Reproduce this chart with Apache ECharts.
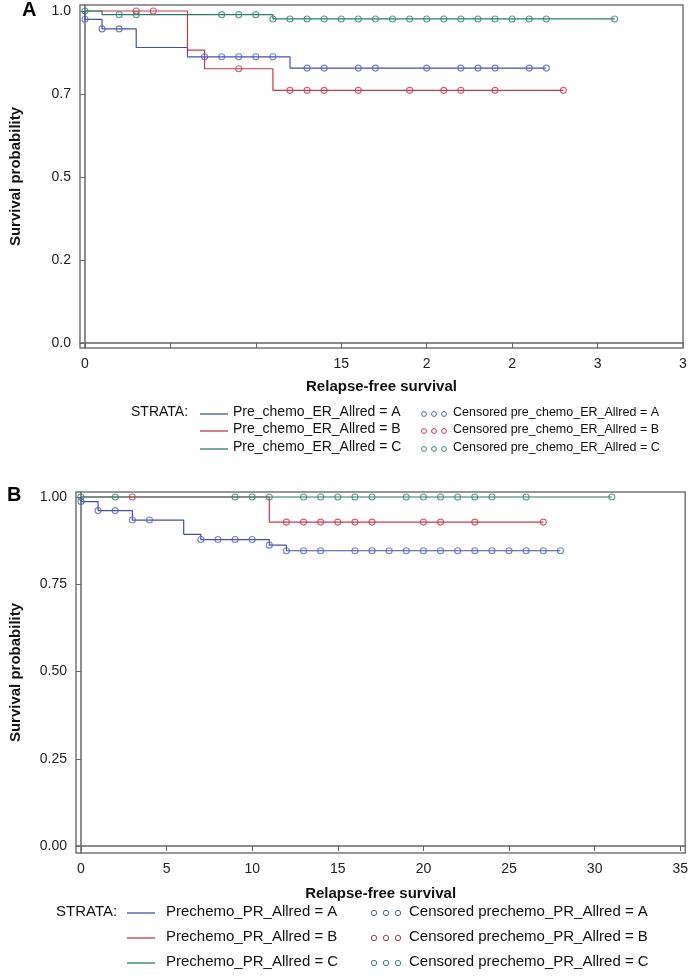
<!DOCTYPE html>
<html><head><meta charset="utf-8">
<script src="https://cdn.jsdelivr.net/npm/echarts@6/dist/echarts.min.js"></script>
<style>html,body{margin:0;padding:0;background:#fff}#c{width:691px;height:977px}</style>
</head><body><div id="c"></div>
<script>
// ---------- axis ticks / labels ----------
const xTicks = [0, 5, 10, 15, 20, 25, 30, 35];
const yTicks = [0, 0.25, 0.5, 0.75, 1];
const xTickLabelsA = ['0', '', '', '15', '2', '2', '3', '3'];
const yTickLabelsA = ['0.0', '0.2', '0.5', '0.7', '1.0'];
const xTickLabelsB = ['0', '5', '10', '15', '20', '25', '30', '35'];
const yTickLabelsB = ['0.00', '0.25', '0.50', '0.75', '1.00'];

// ---------- Panel A (Pre_chemo_ER_Allred) ----------
const namesA = ['Pre_chemo_ER_Allred = A', 'Pre_chemo_ER_Allred = B', 'Pre_chemo_ER_Allred = C'];
const censNamesA = ['Censored pre_chemo_ER_Allred = A', 'Censored pre_chemo_ER_Allred = B', 'Censored pre_chemo_ER_Allred = C'];
// [time, survival after step]
const stepsA_A = [[0, 1], [0, 0.975], [1, 0.946], [3, 0.890], [6, 0.862], [12, 0.828]];
const endA_A = 27;
const censA_A = [0, 1, 2, 7, 8, 9, 10, 11, 13, 14, 16, 17, 20, 22, 23, 24, 26, 27];
const stepsA_B = [[0, 1], [6, 0.882], [7, 0.826], [11, 0.761]];
const endA_B = 28;
const censA_B = [3, 4, 9, 12, 13, 14, 16, 19, 21, 22, 24, 28];
const stepsA_C = [[0, 1], [1, 0.989], [11, 0.976]];
const endA_C = 31;
const censA_C = [0, 2, 3, 8, 9, 10, 11, 12, 13, 14, 15, 16, 17, 18, 19, 20, 21, 22, 23, 24, 25, 26, 27, 31];

// ---------- Panel B (Prechemo_PR_Allred) ----------
const namesB = ['Prechemo_PR_Allred = A', 'Prechemo_PR_Allred = B', 'Prechemo_PR_Allred = C'];
const censNamesB = ['Censored prechemo_PR_Allred = A', 'Censored prechemo_PR_Allred = B', 'Censored prechemo_PR_Allred = C'];
const stepsB_A = [[0, 1], [0, 0.987], [1, 0.961], [3, 0.934], [6, 0.893], [7, 0.878], [11, 0.862], [12, 0.846]];
const endB_A = 28;
const censB_A = [0, 1, 2, 3, 4, 7, 8, 9, 10, 11, 12, 13, 14, 16, 17, 18, 19, 20, 21, 22, 23, 24, 25, 26, 27, 28];
const stepsB_B = [[0, 1], [11, 0.928]];
const endB_B = 27;
const censB_B = [3, 12, 13, 14, 15, 16, 17, 20, 21, 23, 27];
const stepsB_C = [[0, 1]];
const endB_C = 31;
const censB_C = [0, 2, 9, 10, 11, 13, 14, 15, 16, 17, 19, 20, 21, 22, 23, 24, 26, 31];

const lineColors = ['#4550a8', '#c33b4b', '#2b7a68'];
const censColors = ['#5560c0', '#c8384a', '#2e8a74'];
const FONT = 'Liberation Sans';

function kmLine(steps, end) {
  const pts = steps.map(s => [s[0], s[1]]);
  pts.push([end, steps[steps.length - 1][1]]);
  return pts;
}
function survAt(steps, t) {
  let s = steps[0][1];
  for (const st of steps) { if (st[0] <= t) s = st[1]; }
  return s;
}
function censPts(steps, times) { return times.map(t => [t, survAt(steps, t)]); }

const panels = [
  { steps: [stepsA_A, stepsA_B, stepsA_C], ends: [endA_A, endA_B, endA_C], cens: [censA_A, censA_B, censA_C] },
  { steps: [stepsB_A, stepsB_B, stepsB_C], ends: [endB_A, endB_B, endB_C], cens: [censB_A, censB_B, censB_C] }
];

const series = [];
panels.forEach((p, gi) => {
  for (let k = 0; k < 3; k++) {
    series.push({
      type: 'line', xAxisIndex: gi, yAxisIndex: gi, step: 'end',
      data: kmLine(p.steps[k], p.ends[k]), showSymbol: false, silent: true,
      lineStyle: { color: lineColors[k], width: 1.2 }, z: 2 + k
    });
    series.push({
      type: 'scatter', xAxisIndex: gi, yAxisIndex: gi,
      data: censPts(p.steps[k], p.cens[k]), symbol: 'circle', symbolSize: 6, silent: true,
      itemStyle: { color: 'rgba(255,255,255,0)', borderColor: censColors[k], borderWidth: 1.1 }, z: 5 + k
    });
  }
});

function xAxisCfg(gi, min, max, labels, gap) {
  return {
    type: 'value', gridIndex: gi, min: min, max: max,
    name: 'Relapse-free survival', nameLocation: 'middle', nameGap: gap,
    nameTextStyle: { fontFamily: FONT, fontSize: 15, fontWeight: 'bold', color: '#111' },
    axisLine: { show: true, lineStyle: { color: '#666', width: 1.5 } },
    axisTick: { show: true, customValues: xTicks, length: 5, lineStyle: { color: '#666' } },
    axisLabel: { customValues: xTicks, fontFamily: FONT, fontSize: 14, color: '#222', margin: 9,
      formatter: v => { const i = xTicks.indexOf(v); return i >= 0 ? labels[i] : ''; } },
    splitLine: { show: false }
  };
}
function yAxisCfg(gi, min, max, labels, gap) {
  return {
    type: 'value', gridIndex: gi, min: min, max: max,
    name: 'Survival probability', nameLocation: 'middle', nameGap: gap, nameRotate: 90,
    nameTextStyle: { fontFamily: FONT, fontSize: 15, fontWeight: 'bold', color: '#111' },
    axisLine: { show: true, lineStyle: { color: '#666', width: 1.5 } },
    axisTick: { show: true, customValues: yTicks, length: 5, lineStyle: { color: '#666' } },
    axisLabel: { customValues: yTicks, fontFamily: FONT, fontSize: 14, color: '#222', margin: 9,
      formatter: v => { const i = yTicks.findIndex(t => Math.abs(t - v) < 1e-9); return i >= 0 ? labels[i] : ''; } },
    splitLine: { show: false }
  };
}

// legend graphics
const graphic = [];
function addLegend(rows, x0, lineX, textX, circX, censX, fs, cfs, names, cnames, r) {
  graphic.push({ type: 'text', left: x0, top: rows[0] - fs * 0.6, style: { text: 'STRATA:', font: fs + 'px "' + FONT + '"', fill: '#111' } });
  for (let k = 0; k < 3; k++) {
    const y = rows[k];
    graphic.push({ type: 'line', shape: { x1: lineX[0], y1: y, x2: lineX[1], y2: y }, style: { stroke: lineColors[k], lineWidth: 1.3 } });
    graphic.push({ type: 'text', left: textX, top: y - fs * 0.6, style: { text: names[k], font: fs + 'px "' + FONT + '"', fill: '#111' } });
    circX.forEach(cx => graphic.push({ type: 'circle', shape: { cx: cx, cy: y, r: r }, style: { fill: 'none', stroke: censColors[k], lineWidth: 1 } }));
    graphic.push({ type: 'text', left: censX, top: y - cfs * 0.6, style: { text: cnames[k], font: cfs + 'px "' + FONT + '"', fill: '#111' } });
  }
}
addLegend([414, 431, 449], 131, [200, 228], 233, [424, 434, 444], 453, 14, 12.5, namesA, censNamesA, 2.4);
addLegend([913, 938, 963], 56, [127, 155], 166, [374, 386, 398], 409, 15, 15, namesB, censNamesB, 2.7);
graphic.push({ type: 'text', left: 22, top: 0, style: { text: 'A', font: 'bold 20px "' + FONT + '"', fill: '#000' } });
graphic.push({ type: 'text', left: 7, top: 485, style: { text: 'B', font: 'bold 20px "' + FONT + '"', fill: '#000' } });

const chart = echarts.init(document.getElementById('c'), null, { renderer: 'canvas' });
chart.setOption({
  animation: false,
  backgroundColor: '#fff',
  grid: [
    { left: 77, top: 5, width: 606, height: 343, show: true, borderColor: '#777', borderWidth: 1.5, containLabel: false },
    { left: 72, top: 492, width: 616, height: 361, show: true, borderColor: '#777', borderWidth: 1.5, containLabel: false }
  ],
  xAxis: [
    xAxisCfg(0, -0.29, 35, xTickLabelsA, 31),
    xAxisCfg(1, -0.29, 35.29, xTickLabelsB, 33)
  ],
  yAxis: [
    yAxisCfg(0, -0.015, 1.018, yTickLabelsA, 57),
    yAxisCfg(1, -0.02, 1.0143, yTickLabelsB, 53)
  ],
  graphic: graphic,
  series: series
});
</script>
</body></html>
